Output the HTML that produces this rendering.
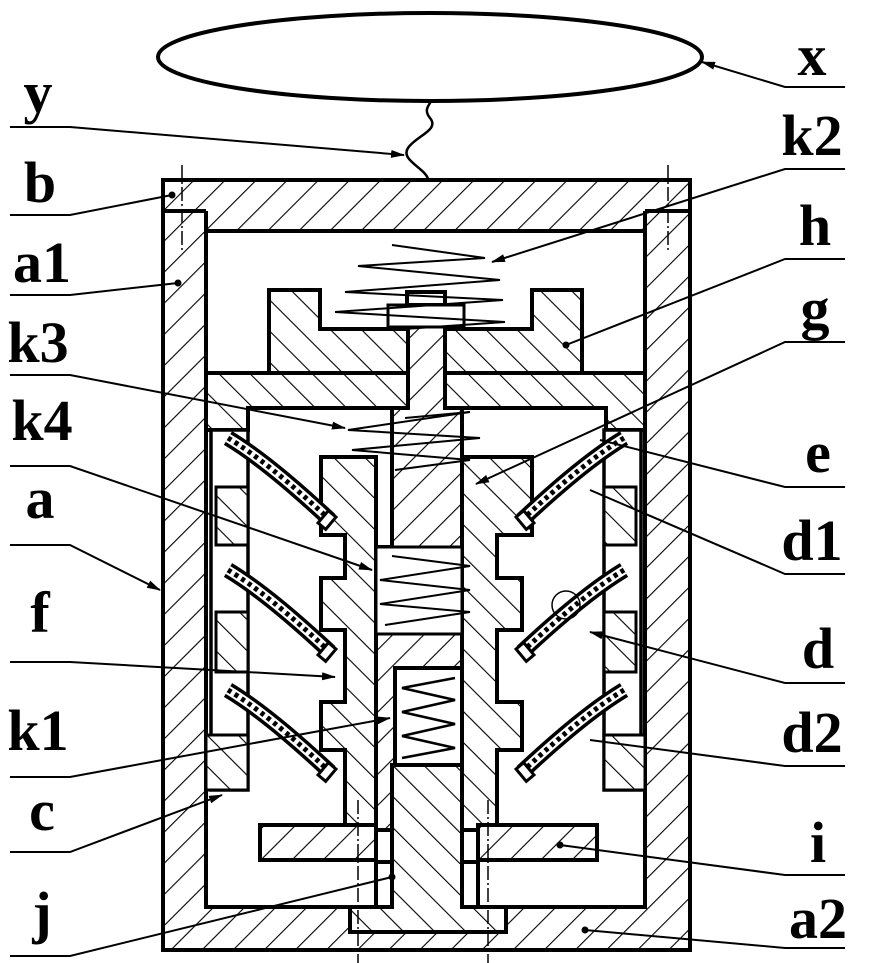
<!DOCTYPE html>
<html><head><meta charset="utf-8"><style>
html,body{margin:0;padding:0;background:#fff}
svg{display:block}
text{font-family:"Liberation Serif",serif;font-weight:bold;font-size:58px;fill:#000}
</style></head><body>
<svg width="874" height="963" viewBox="0 0 874 963" xmlns="http://www.w3.org/2000/svg">
<defs>
<pattern id="hA" patternUnits="userSpaceOnUse" width="22" height="22" patternTransform="rotate(45)">
<rect width="22" height="22" fill="#fff"/><line x1="0" y1="0" x2="0" y2="22" stroke="#000" stroke-width="2.2"/></pattern>
<pattern id="hB" patternUnits="userSpaceOnUse" width="22" height="22" patternTransform="rotate(-45)">
<rect width="22" height="22" fill="#fff"/><line x1="0" y1="0" x2="0" y2="22" stroke="#000" stroke-width="2.2"/></pattern>
<marker id="ar" markerWidth="14" markerHeight="8" refX="13" refY="4" orient="auto" markerUnits="userSpaceOnUse">
<path d="M0,0 L14,4 L0,8 Z" fill="#000"/></marker>
<marker id="dt" markerWidth="8" markerHeight="8" refX="4" refY="4" markerUnits="userSpaceOnUse">
<circle cx="4" cy="4" r="3.5" fill="#000"/></marker>
</defs>

<!-- antenna ellipse -->
<ellipse cx="430" cy="57" rx="272" ry="44" fill="none" stroke="#000" stroke-width="4"/>
<path d="M428,179 C425,168 400,160 408,148 C416,136 440,130 430,118 C422,108 432,104 430,101" fill="none" stroke="#000" stroke-width="2.5"/>

<g stroke="#000" stroke-width="4" stroke-linejoin="miter">
<!-- housing -->
<rect x="163" y="180" width="527" height="770" fill="url(#hA)"/>
<rect x="206" y="231" width="439" height="676" fill="#fff"/>
<line x1="163" y1="211" x2="206" y2="211"/><line x1="645" y1="211" x2="690" y2="211"/>
<line x1="206" y1="211" x2="206" y2="231"/><line x1="645" y1="211" x2="645" y2="231"/>
<line x1="206" y1="231" x2="645" y2="231"/>

<!-- h block -->
<path d="M269,290 L320,290 L320,329 L532,329 L532,290 L582,290 L582,373 L269,373 Z" fill="url(#hB)"/>
<!-- e plate -->
<path d="M206,373 L645,373 L645,430 L606,430 L606,408 L248,408 L248,430 L206,430 Z" fill="url(#hB)"/>
<!-- shaft g -->
<path d="M408,305 L445,305 L445,408 L462,408 L462,830 L376,830 L376,547 L392,547 L392,408 L408,408 Z" fill="url(#hA)"/>
<rect x="407" y="292" width="38" height="13" fill="#fff"/>
<rect x="388" y="305" width="76" height="22" fill="#fff" stroke-width="3"/>
<!-- f block left -->
<path d="M321,457 L376,457 L376,830 L345,830 L345,750 L321,750 L321,702 L345,702 L345,630 L321,630 L321,578 L345,578 L345,535 L321,535 Z" fill="url(#hB)"/>
<!-- f block right -->
<path d="M532,457 L462,457 L462,830 L497,830 L497,750 L522,750 L522,702 L497,702 L497,630 L522,630 L522,578 L497,578 L497,535 L532,535 Z" fill="url(#hB)"/>
<!-- k4 cavity -->
<rect x="376" y="547" width="86" height="87" fill="#fff" stroke-width="3"/>
<!-- k1 box -->
<rect x="395" y="668" width="67" height="97" fill="#fff"/>
<!-- j -->
<path d="M392,765 L462,765 L462,907 L506,907 L506,932 L350,932 L350,907 L392,907 Z" fill="url(#hB)"/>
<line x1="376" y1="862" x2="392" y2="862"/><line x1="462" y1="862" x2="478" y2="862"/>
<line x1="206" y1="907" x2="350" y2="907"/><line x1="506" y1="907" x2="645" y2="907"/>
<!-- i plates -->
<rect x="260" y="825" width="116" height="35" fill="url(#hA)"/>
<rect x="478" y="825" width="119" height="35" fill="url(#hA)"/>
<line x1="376" y1="860" x2="376" y2="907"/><line x1="478" y1="860" x2="478" y2="907"/>

<!-- c columns left -->
<rect x="211" y="430" width="37" height="360" fill="#fff" stroke-width="3.5"/>
<rect x="216" y="487" width="32" height="58" fill="url(#hB)" stroke-width="3"/>
<rect x="216" y="612" width="32" height="60" fill="url(#hB)" stroke-width="3"/>
<rect x="206" y="735" width="42" height="55" fill="url(#hB)" stroke-width="3"/>
<!-- c columns right -->
<rect x="604" y="430" width="37" height="360" fill="#fff" stroke-width="3.5"/>
<rect x="604" y="487" width="32" height="58" fill="url(#hB)" stroke-width="3"/>
<rect x="604" y="612" width="32" height="60" fill="url(#hB)" stroke-width="3"/>
<rect x="604" y="735" width="41" height="55" fill="url(#hB)" stroke-width="3"/>
</g>

<!-- springs d (curved tubes) -->
<g fill="none" stroke="#000">
<g id="sp">
<path d="M228,438 Q268,462 330,520" stroke-width="16"/>
<path d="M228,438 Q268,462 330,520" stroke="#fff" stroke-width="9"/>
<path d="M228,438 Q268,462 330,520" stroke-width="5" stroke-dasharray="4 4"/>
<rect x="322" y="512" width="10" height="16" stroke-width="3" fill="#fff" transform="rotate(40 327 520)"/>
</g>
<use href="#sp" transform="translate(0,132)"/>
<use href="#sp" transform="translate(0,252)"/>
<use href="#sp" transform="translate(852,0) scale(-1,1)"/>
<use href="#sp" transform="translate(852,132) scale(-1,1)"/>
<use href="#sp" transform="translate(852,252) scale(-1,1)"/>
</g>

<!-- springs k2, k3, k4, k1 -->
<g fill="none" stroke="#000" stroke-width="2">
<polyline points="392,245 485,258 358,266 500,280 345,292 503,300 335,312 505,322 390,330"/>
<polyline points="405,418 470,412 348,430 480,438 352,450 470,460 395,470"/>
<polyline points="392,556 470,566 380,580 470,590 380,604 470,612 385,625"/>
<polyline points="455,678 402,688 455,700 402,712 455,724 402,736 455,748 402,758" stroke-width="2.5"/>
</g>
<!-- center lines -->
<g stroke="#000" stroke-width="1.5" stroke-dasharray="14 3 2 3">
<line x1="182" y1="165" x2="182" y2="250"/><line x1="668" y1="165" x2="668" y2="250"/>
<line x1="358" y1="800" x2="358" y2="963"/><line x1="488" y1="800" x2="488" y2="963"/>
</g>
<circle cx="566" cy="605" r="14" fill="none" stroke="#000" stroke-width="1.5"/>

<!-- leader lines -->
<g stroke="#000" stroke-width="2" fill="none">
<polyline points="10,127 70,127 404,155" marker-end="url(#ar)"/>
<polyline points="10,215 70,215 172,195" marker-end="url(#dt)"/>
<polyline points="10,295 70,295 178,283" marker-end="url(#dt)"/>
<polyline points="10,375 70,375 345,428" marker-end="url(#ar)"/>
<polyline points="10,466 70,466 372,570" marker-end="url(#ar)"/>
<polyline points="10,545 70,545 160,590" marker-end="url(#ar)"/>
<polyline points="10,662 70,662 335,677" marker-end="url(#ar)"/>
<polyline points="10,777 70,777 390,718" marker-end="url(#ar)"/>
<polyline points="10,852 70,852 222,795" marker-end="url(#ar)"/>
<polyline points="10,956 70,956 392,877" marker-end="url(#dt)"/>
<polyline points="845,87 785,87 702,62" marker-end="url(#ar)"/>
<polyline points="845,169 785,169 492,262" marker-end="url(#ar)"/>
<polyline points="845,259 785,259 566,345" marker-end="url(#dt)"/>
<polyline points="845,342 785,342 476,484" marker-end="url(#ar)"/>
<polyline points="845,487 785,487 600,440"/>
<polyline points="845,574 785,574 590,490"/>
<polyline points="845,683 785,683 590,632" marker-end="url(#ar)"/>
<polyline points="845,766 785,766 590,740"/>
<polyline points="845,875 785,875 560,845" marker-end="url(#dt)"/>
<polyline points="845,948 785,948 585,930" marker-end="url(#dt)"/>
</g>

<!-- labels -->
<g text-anchor="middle">
<text x="38" y="112">y</text>
<text x="40" y="202">b</text>
<text x="42" y="282">a1</text>
<text x="38" y="362">k3</text>
<text x="42" y="440">k4</text>
<text x="40" y="518">a</text>
<text x="40" y="632">f</text>
<text x="38" y="750">k1</text>
<text x="42" y="830">c</text>
<text x="42" y="932">j</text>
<text x="812" y="75">x</text>
<text x="812" y="155">k2</text>
<text x="815" y="245">h</text>
<text x="815" y="328">g</text>
<text x="818" y="472">e</text>
<text x="812" y="560">d1</text>
<text x="818" y="668">d</text>
<text x="812" y="752">d2</text>
<text x="818" y="862">i</text>
<text x="818" y="938">a2</text>
</g>
</svg>
</body></html>
